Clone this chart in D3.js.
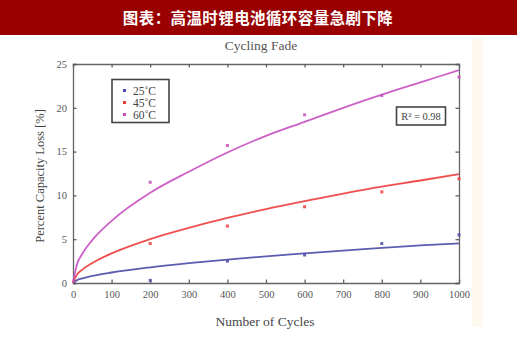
<!DOCTYPE html>
<html>
<head>
<meta charset="utf-8">
<script src="https://cdn.jsdelivr.net/npm/d3@7"></script>
<style>
html,body{margin:0;padding:0;background:#fff;}
svg{display:block;}
</style>
</head>
<body>
<svg id="c" width="520" height="337"></svg>
<script>
// ---- data ----
const chartTitle = "图表：高温时锂电池循环容量急剧下降";
const plotTitle = "Cycling Fade";
const xLabel = "Number of Cycles";
const yLabel = "Percent Capacity Loss [%]";
const xTicks = [0,100,200,300,400,500,600,700,800,900,1000];
const yTicks = [0,5,10,15,20,25];
const seriesNames = ["25˚C","45˚C","60˚C"];
const pointCycles = [200,400,600,800,1000];
const points25 = [0.3,2.5,3.2,4.5,5.5];
const points45 = [4.5,6.5,8.7,10.4,11.9];
const points60 = [11.5,15.7,19.2,21.4,23.5];
const fitCycles = [0,10,25,50,100,200,300,400,500,600,700,800,900,1000];
const fit25 = [0,0.32,0.54,0.81,1.2,1.79,2.27,2.68,3.05,3.38,3.7,4.0,4.3,4.53];
const fit45 = [0,0.93,1.56,2.29,3.38,5.02,6.3,7.43,8.43,9.34,10.2,11.0,11.7,12.44];
const fit60 = [0,2.08,3.4,4.9,7.1,10.3,12.7,14.9,16.8,18.4,20.0,21.5,22.9,24.3];
const rText = "R² = 0.98";

const colors = ["#4a4aa8","#ee3b3b","#c84fc0"];
const svg = d3.select("#c");
const serif = "'Liberation Serif','DejaVu Serif',serif";

// title bar
svg.append("rect").attr("x",0).attr("y",0).attr("width",517).attr("height",35).attr("fill","#990000");
svg.append("text").attr("x",258).attr("y",24).attr("text-anchor","middle")
  .attr("fill","#fff").attr("font-family","'Noto Sans CJK SC',sans-serif").attr("font-weight","bold")
  .attr("font-size",15.5).attr("letter-spacing",0.4).text(chartTitle);

// beige strip
svg.append("rect").attr("x",472).attr("y",38).attr("width",11).attr("height",289).attr("fill","#fdf9ee");

const x = d3.scaleLinear().domain([0,1000]).range([73,459]);
const y = d3.scaleLinear().domain([0,25]).range([283,64]);

// plot title
svg.append("text").attr("x",261).attr("y",50).attr("text-anchor","middle")
  .attr("font-family",serif).attr("font-size",13.5).attr("fill","#555").text(plotTitle);

// axes
const tl = 3.5;
const gx = svg.append("g").attr("transform",`translate(0,${y(0)})`)
  .call(d3.axisBottom(x).tickValues(xTicks).tickSize(-tl).tickPadding(8).tickFormat(d3.format("d")));
const gxt = svg.append("g").attr("transform",`translate(0,${y(25)})`)
  .call(d3.axisTop(x).tickValues(xTicks).tickSize(-tl).tickFormat(""));
const gy = svg.append("g").attr("transform",`translate(${x(0)},0)`)
  .call(d3.axisLeft(y).tickValues(yTicks).tickSize(-tl).tickPadding(6));
const gyr = svg.append("g").attr("transform",`translate(${x(1000)},0)`)
  .call(d3.axisRight(y).tickValues(yTicks).tickSize(-tl).tickFormat(""));
[gx,gxt,gy,gyr].forEach(g=>{
  g.select(".domain").attr("stroke","#666").attr("stroke-width",1.3);
  g.selectAll(".tick line").attr("stroke","#555").attr("stroke-width",1.2);
  g.selectAll("text").attr("font-family",serif).attr("font-size",10.5).attr("fill","#555");
});

// axis labels
svg.append("text").attr("x",265).attr("y",326).attr("text-anchor","middle")
  .attr("font-family",serif).attr("font-size",13.5).attr("fill","#444").text(xLabel);
svg.append("text").attr("transform","translate(44,176) rotate(-90)").attr("text-anchor","middle")
  .attr("font-family",serif).attr("font-size",12.5).attr("fill","#444").text(yLabel);

// fit lines
const line = d3.line().x((d,i)=>x(fitCycles[i])).y(d=>y(d)).curve(d3.curveMonotoneX);
[fit25,fit45,fit60].forEach((f,k)=>{
  svg.append("path").attr("d",line(f)).attr("fill","none")
    .attr("stroke",colors[k]).attr("stroke-width",1.8).attr("opacity",0.9);
});

// points
[points25,points45,points60].forEach((p,k)=>{
  svg.append("g").selectAll("rect").data(p).join("rect")
    .attr("x",(d,i)=>x(pointCycles[i])-1.5).attr("y",d=>y(d)-1.5)
    .attr("width",3).attr("height",3).attr("fill",colors[k]).attr("opacity",0.85);
});

// legend
svg.append("rect").attr("x",112).attr("y",79.5).attr("width",57).attr("height",43)
  .attr("fill","#fff").attr("stroke","#444").attr("stroke-width",1.6);
seriesNames.forEach((n,k)=>{
  const yy = 90.5 + k*12;
  svg.append("rect").attr("x",123).attr("y",yy-1.5).attr("width",3).attr("height",3).attr("fill",colors[k]);
  svg.append("text").attr("x",133).attr("y",yy+4).attr("font-family",serif).attr("font-size",11.5)
    .attr("fill","#444").text(n);
});

// R² box
svg.append("rect").attr("x",396.5).attr("y",107).attr("width",49).attr("height",18)
  .attr("fill","#fff").attr("stroke","#444").attr("stroke-width",1.6);
svg.append("text").attr("x",421).attr("y",120).attr("text-anchor","middle")
  .attr("font-family",serif).attr("font-size",10.5).attr("fill","#444").text(rText);
</script>
</body>
</html>
